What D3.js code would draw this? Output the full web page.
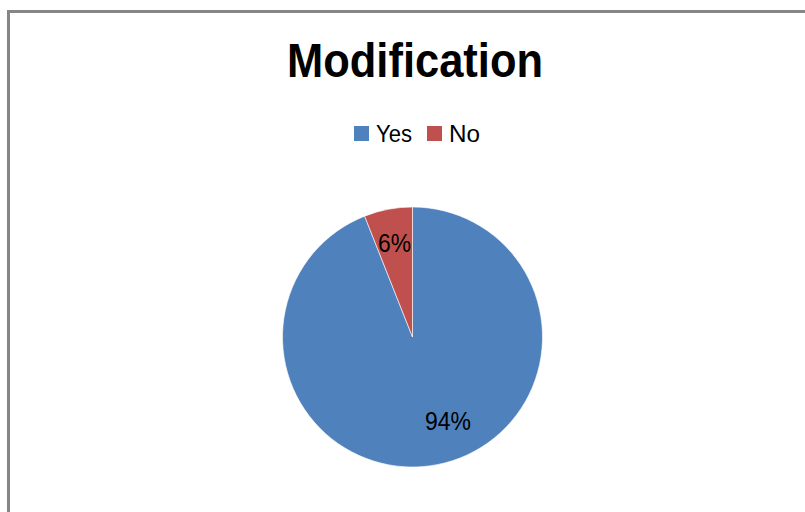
<!DOCTYPE html>
<html>
<head>
<meta charset="utf-8">
<script src="https://cdn.jsdelivr.net/npm/d3@7"></script>
<style>
  html, body { margin: 0; padding: 0; background: #fff; }
  svg { display: block; }
  text { font-family: "Liberation Sans Narrow", "Arial Narrow", "Liberation Sans", sans-serif; }
</style>
</head>
<body>
<svg id="chart" width="805" height="512"></svg>
<script>
// Survey answers for "Modification"
const title = "Modification";
const categories = ["Yes", "No"];
const values = [94, 6];
const colors = ["#4F81BD", "#C0504D"];

const svg = d3.select("#chart");

// condensed text helper: fixes the drawn width of a label
function narrow(sel, w) {
  return sel.attr("textLength", w).attr("lengthAdjust", "spacingAndGlyphs");
}

// chart frame
svg.append("rect")
  .attr("x", 8.5).attr("y", 11.5)
  .attr("width", 820).attr("height", 520)
  .attr("fill", "#fff")
  .attr("stroke", "#868686")
  .attr("stroke-width", 3);

// title
narrow(svg.append("text")
  .attr("x", 415).attr("y", 77)
  .attr("text-anchor", "middle")
  .attr("font-size", 48)
  .attr("font-weight", "bold")
  .attr("fill", "#000")
  .text(title), 256);

// legend
const legendX = [354, 427];
const legendW = [36, 31];
categories.forEach((c, i) => {
  const g = svg.append("g").attr("transform", `translate(${legendX[i]},126)`);
  g.append("rect").attr("width", 15).attr("height", 15).attr("fill", colors[i]);
  narrow(g.append("text")
    .attr("x", 22).attr("y", 16)
    .attr("font-size", 24)
    .attr("fill", "#000")
    .text(c), legendW[i]);
});

// pie
const cx = 412.5, cy = 337, R = 130;
const pie = d3.pie().sort(null).value(d => d)
  .startAngle(0).endAngle(2 * Math.PI);
const arcs = pie(values);
const arc = d3.arc().innerRadius(0).outerRadius(R);

const g = svg.append("g").attr("transform", `translate(${cx},${cy})`);
g.selectAll("path")
  .data(arcs)
  .enter().append("path")
  .attr("d", arc)
  .attr("fill", (d, i) => colors[i])
  .attr("stroke", "rgba(255,255,255,0.6)")
  .attr("stroke-width", 1);

// data labels placed inside each slice (best-fit style)
const total = d3.sum(values);
const labelFrac = [0.464, 0.5];
const labelRad = [0.70, 0.74];
g.selectAll("text.lbl")
  .data(arcs)
  .enter().append("text")
  .attr("class", "lbl")
  .attr("transform", (d, i) => {
    const a = d.startAngle + (d.endAngle - d.startAngle) * labelFrac[i];
    const r = R * labelRad[i];
    return `translate(${Math.sin(a) * r},${-Math.cos(a) * r})`;
  })
  .attr("text-anchor", "middle")
  .attr("dy", "0.36em")
  .attr("font-size", 25)
  .attr("fill", "#000")
  .each(function (d) {
    const t = Math.round(d.value / total * 100) + "%";
    narrow(d3.select(this).text(t), t.length === 3 ? 46 : 33);
  });
</script>
</body>
</html>
